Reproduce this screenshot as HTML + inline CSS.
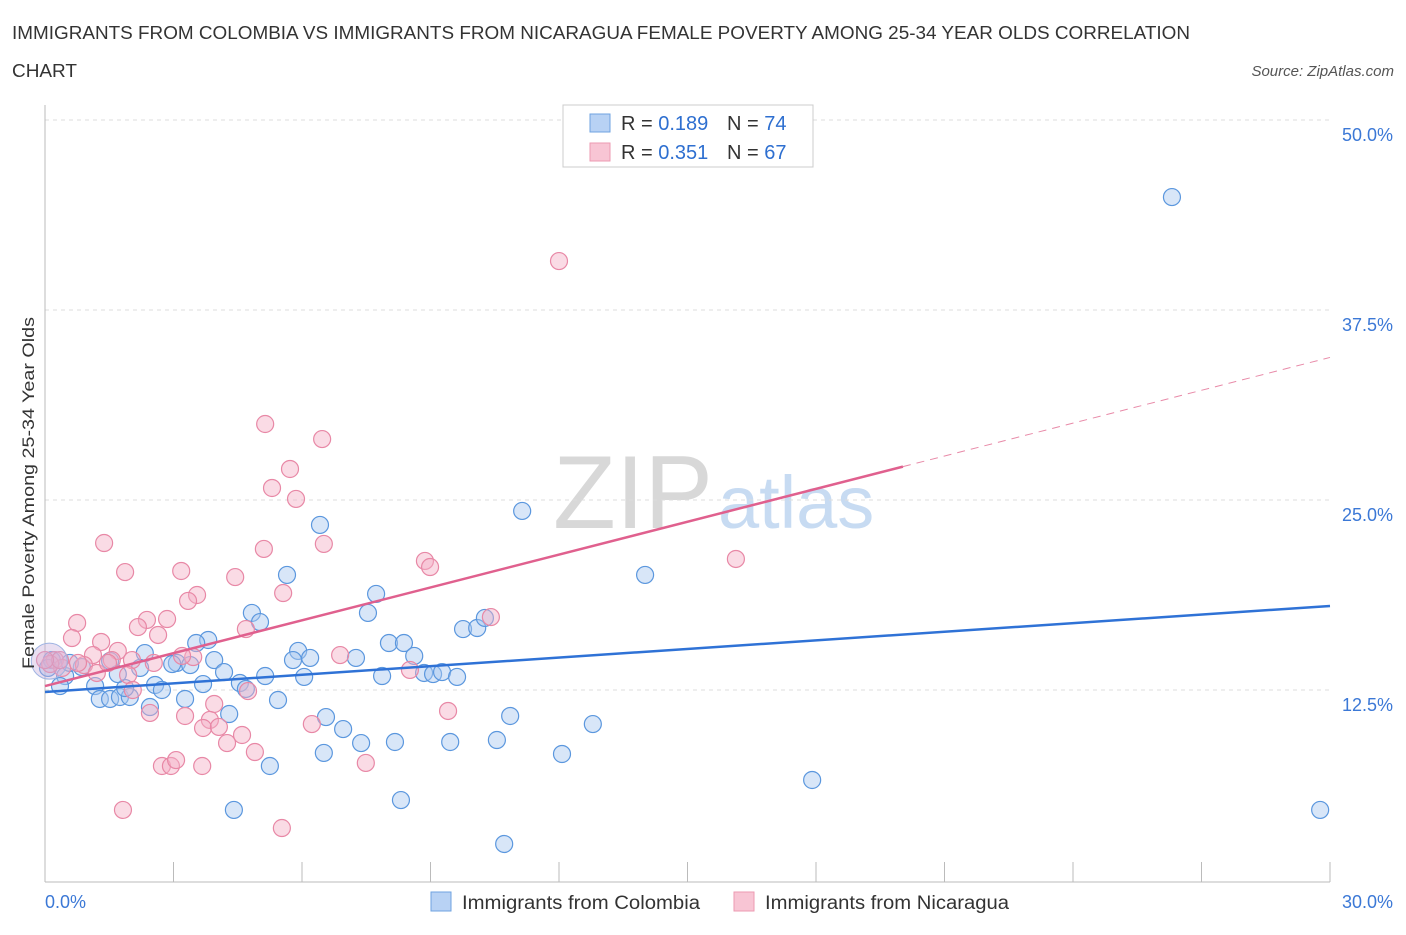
<!DOCTYPE html>
<html><head><meta charset="utf-8"><style>
body{margin:0;background:#fff;font-family:"Liberation Sans",sans-serif;}
svg text{font-family:"Liberation Sans",sans-serif;}
</style></head><body>
<svg id="chart" width="1406" height="930" xmlns="http://www.w3.org/2000/svg">
<text x="12" y="39" font-size="18" fill="#333" textLength="1178" lengthAdjust="spacingAndGlyphs">IMMIGRANTS FROM COLOMBIA VS IMMIGRANTS FROM NICARAGUA FEMALE POVERTY AMONG 25-34 YEAR OLDS CORRELATION</text>
<text x="12" y="77" font-size="18" fill="#333" textLength="65" lengthAdjust="spacingAndGlyphs">CHART</text>
<text x="1394" y="76" font-size="15" fill="#555" font-style="italic" text-anchor="end">Source: ZipAtlas.com</text>
<g>
<text x="553" y="528" font-size="104" fill="#d8d8d8" font-family="Liberation Serif,serif" textLength="160" lengthAdjust="spacingAndGlyphs">ZIP</text>
<text x="718" y="528" font-size="74" fill="#c7dbf2">atlas</text>
</g>
<g id="grid"></g>
<g id="axes"></g>
<g id="marks"></g>
<g id="lines"></g>
<text transform="translate(34,493) rotate(-90)" font-size="17" fill="#333" text-anchor="middle" textLength="352" lengthAdjust="spacingAndGlyphs">Female Poverty Among 25-34 Year Olds</text>
<g>
<rect x="563" y="105" width="250" height="62" fill="#fff" stroke="#ccc"/>
<rect x="590" y="114" width="20" height="18" fill="#b8d2f4" stroke="#6fa3e0"/>
<rect x="590" y="143" width="20" height="18" fill="#f8c5d4" stroke="#ec9ab2"/>
<text x="621" y="130" font-size="20" fill="#333">R = <tspan fill="#2e6fd0">0.189</tspan></text>
<text x="727" y="130" font-size="20" fill="#333">N = <tspan fill="#2e6fd0">74</tspan></text>
<text x="621" y="159" font-size="20" fill="#333">R = <tspan fill="#2e6fd0">0.351</tspan></text>
<text x="727" y="159" font-size="20" fill="#333">N = <tspan fill="#2e6fd0">67</tspan></text>
</g>
<g>
<rect x="431" y="892" width="20" height="19" fill="#b8d2f4" stroke="#6fa3e0"/>
<text x="462" y="909" font-size="19" fill="#333" textLength="238" lengthAdjust="spacingAndGlyphs">Immigrants from Colombia</text>
<rect x="734" y="892" width="20" height="19" fill="#f8c5d4" stroke="#ec9ab2"/>
<text x="765" y="909" font-size="19" fill="#333" textLength="244" lengthAdjust="spacingAndGlyphs">Immigrants from Nicaragua</text>
</g>
</svg>
<script>
const yTicks=[12.5,25,37.5,50];
const yTickLabels=["12.5%","25.0%","37.5%","50.0%"];
const xTickLabels=["0.0%","30.0%"];
const colX=[26.31,11.14,14.01,6.42,5.65,7.73,7.54,4.83,5.02,9.76,10.09,10.27,8.03,8.38,8.62,5.91,6.19,5.79,3.81,3.53,2.33,3.08,3.39,2.97,3.95,4.18,5.14,6.05,7.26,7.87,8.85,9.06,9.27,9.62,3.69,4.55,4.69,5.44,4.30,6.56,6.96,7.38,8.17,9.46,10.55,10.86,12.79,6.51,5.25,12.07,17.91,8.31,4.41,10.72,29.77,1.52,0.86,0.47,0.35,1.17,1.28,1.52,1.75,1.98,1.87,2.57,2.73,2.45,2.22,3.27,0.16,0.07,0.58,1.70];
const colY=[44.93,24.28,20.07,23.36,20.07,18.82,17.57,17.57,16.97,16.51,16.58,17.24,15.59,15.59,14.74,15.07,14.61,14.47,15.79,15.59,14.93,14.28,14.14,14.21,14.47,13.68,13.42,13.36,14.61,13.42,13.62,13.55,13.68,13.36,12.89,12.96,12.57,11.84,10.92,10.72,9.93,9.01,9.08,9.08,9.21,10.79,10.26,8.36,7.50,8.29,6.58,5.26,4.61,2.37,4.61,14.41,14.01,13.42,12.76,12.76,11.91,11.91,12.04,12.04,12.63,12.83,12.50,11.38,13.95,11.91,14.47,13.95,14.28,13.55];
const nicX=[12.0,5.14,6.47,5.72,5.30,5.86,1.38,6.51,5.11,8.87,8.99,16.13,1.87,3.18,4.44,3.55,3.34,5.56,0.75,2.38,2.85,2.17,1.31,0.63,1.70,2.64,4.69,3.46,6.89,8.52,10.41,1.12,0.91,0.23,0.40,1.56,2.03,2.54,1.94,1.21,3.20,3.95,3.85,3.69,4.25,4.60,3.27,2.45,4.06,4.90,6.23,9.41,2.05,4.74,2.73,2.94,3.06,3.67,1.82,7.49,5.53,1.47,0.12,0.35,0.77,0.0];
const nicY=[40.72,30.0,29.01,27.04,25.79,25.07,22.17,22.11,21.78,20.99,20.59,21.12,20.26,20.33,19.93,18.75,18.36,18.88,16.91,17.11,17.17,16.64,15.66,15.92,15.07,16.12,16.51,14.67,14.80,13.82,17.30,14.80,14.14,14.47,13.95,14.47,14.47,14.28,13.49,13.62,14.74,11.58,10.53,10.0,9.01,9.54,10.79,10.99,10.07,8.42,10.26,11.12,12.50,12.43,7.50,7.50,7.89,7.50,4.61,7.70,3.42,14.28,14.21,14.47,14.28,14.47];
const colTrend=[12.37,18.03];
const nicTrend=[12.76,34.38];
const nicSolidEnd=20.03;
const NS="http://www.w3.org/2000/svg";
const X0=45,X1=1330,Y0=880,PXY=15.2;
function sx(v){return X0+v/30*(X1-X0);}
function sy(v){return Y0-v*PXY;}
function mk(t,a,p){const e=document.createElementNS(NS,t);for(const k in a)e.setAttribute(k,a[k]);p.appendChild(e);return e;}
const grid=document.getElementById('grid'),axes=document.getElementById('axes'),marks=document.getElementById('marks'),lines=document.getElementById('lines');
yTicks.forEach((t,i)=>{
 const l=mk('line',{x1:45,x2:1330,y1:sy(t),y2:sy(t),stroke:'#ddd','stroke-dasharray':'4,4'},grid);
 
 
 const tx=mk('text',{x:1393,y:sy(t)+21,'font-size':18,fill:'#3b78d6','text-anchor':'end'},axes);
 tx.textContent=yTickLabels[i];
 
 
});
const ya=mk('line',{x1:45,x2:45,y1:105,y2:882,stroke:'#bbb'},axes);


const xa=mk('line',{x1:45,x2:1330,y1:882,y2:882,stroke:'#bbb'},axes);


for(let i=0;i<=10;i++){const x=sx(i*3);
 const tk=mk('line',{x1:x,x2:x,y1:862,y2:882,stroke:'#bbb'},axes);
 
 }
[[0,'start',45],[30,'end',1393]].forEach((d,i)=>{
 const t=mk('text',{x:d[2],y:908,'font-size':18,fill:'#3b78d6','text-anchor':d[1]},axes);
 t.textContent=xTickLabels[i];
 
 });
function dots(xs,ys,fill,stroke,name){xs.forEach((x,i)=>{
 const c=mk('circle',{cx:sx(x),cy:sy(ys[i]),r:8.5,fill:fill,'fill-opacity':0.45,stroke:stroke,'stroke-width':1.2},marks);
 
 });}
dots(colX,colY,'#a9c8f0','#5b97de','colombia-point');
dots(nicX,nicY,'#f5b0c6','#e888a6','nicaragua-point');
const big=mk('circle',{cx:sx(0.1),cy:sy(14.4),r:18,fill:'#c9b0dc','fill-opacity':0.4,stroke:'#9fb4e2'},marks);


const bl=mk('line',{x1:sx(0),y1:sy(colTrend[0]),x2:sx(30),y2:sy(colTrend[1]),stroke:'#2f72d6','stroke-width':2.5},lines);


const slope=(nicTrend[1]-nicTrend[0])/30;
const pl=mk('line',{x1:sx(0),y1:sy(nicTrend[0]),x2:sx(nicSolidEnd),y2:sy(nicTrend[0]+slope*nicSolidEnd),stroke:'#e0608e','stroke-width':2.5},lines);


const pd=mk('line',{x1:sx(nicSolidEnd),y1:sy(nicTrend[0]+slope*nicSolidEnd),x2:sx(30),y2:sy(nicTrend[1]),stroke:'#e88aa8','stroke-width':1,'stroke-dasharray':'8,6'},lines);


</script>
</body></html>
